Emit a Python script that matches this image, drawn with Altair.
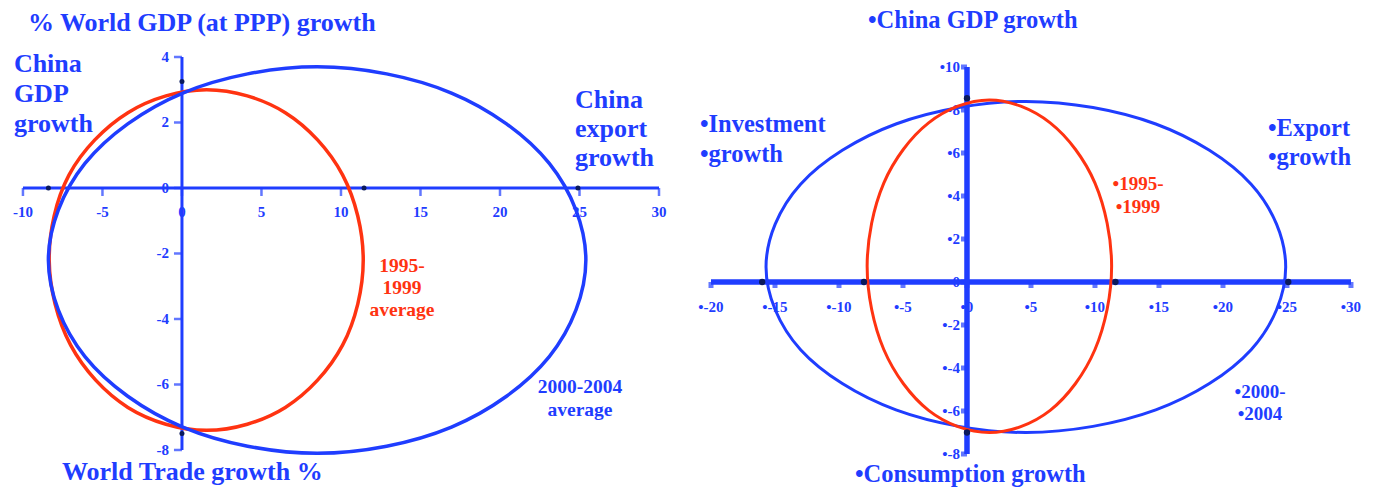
import altair as alt
import pandas as pd

# ---------------- data ----------------
# Left panel: world trade / world GDP / China GDP / China export (two periods)
L_BLUE_X = [25.4, 23.1, 16.95, 8.5, 0.05, -6.1, -8.4, -6.1, 0.05, 8.5, 16.95, 23.1]
L_BLUE_Y = [-2.2, 0.75, 2.9, 3.7, 2.9, 0.75, -2.2, -5.15, -7.3, -8.1, -7.3, -5.15]
L_RED_X = [11.4, 10.1, 6.5, 1.55, -3.4, -7.1, -8.35, -7.0, -3.4, 1.55, 6.5, 10.1]
L_RED_Y = [-2.2, 0.4, 2.3, 3.0, 2.3, 0.4, -2.2, -4.8, -6.7, -7.4, -6.7, -4.8]
L_DOT_X = [0, -8.4, 11.45, 24.9, 0]
L_DOT_Y = [3.25, 0, 0, 0, -7.5]
L_XTICKS = [-10, -5, 0, 5, 10, 15, 20, 25, 30]
L_YTICKS = [4, 2, 0, -2, -4, -6, -8]

# Right panel: China GDP / investment / consumption / export growth
R_BLUE_X = [24.9, 22.2, 14.75, 4.6, -5.55, -13.0, -15.7, -13.0, -5.55, 4.6, 14.75, 22.2]
R_BLUE_Y = [0.7, 4.55, 7.35, 8.4, 7.35, 4.55, 0.7, -3.15, -5.95, -7.0, -5.95, -3.15]
R_RED_X = [11.3, 10.0, 6.5, 1.75, -3.0, -6.5, -7.8, -6.5, -3.0, 1.75, 6.5, 10.0]
R_RED_Y = [0.73, 4.6, 7.4, 8.47, 7.4, 4.6, 0.73, -3.14, -5.97, -7.0, -5.97, -3.14]
R_DOT_X = [0, -16.0, -8.05, 11.6, 25.1, 0]
R_DOT_Y = [8.55, 0, 0, 0, 0, -7.0]
R_XTICKS = [-20, -15, -10, -5, 0, 5, 10, 15, 20, 25, 30]
R_YTICKS = [10, 8, 6, 4, 2, 0, -2, -4, -6, -8]

# ---------------- styling ----------------
BLUE = "#1f3dff"
RED = "#ff3311"
NAVY = "#0b1a5c"
FONT = "Liberation Serif"

LX = alt.Scale(domain=[-10.94, 31.32], nice=False, zero=False)
LY = alt.Scale(domain=[-8.947, 5.496], nice=False, zero=False)
RX = alt.Scale(domain=[-21.64, 31.33], nice=False, zero=False)
RY = alt.Scale(domain=[-9.256, 12.744], nice=False, zero=False)


def enc(sx, sy):
    return dict(x=alt.X("x:Q", scale=sx, axis=None),
                y=alt.Y("y:Q", scale=sy, axis=None))


def curve(xs, ys, color, width, sx, sy):
    df = pd.DataFrame({"x": xs, "y": ys, "i": list(range(len(xs)))})
    return alt.Chart(df).mark_line(
        interpolate="cardinal-closed", color=color, strokeWidth=width
    ).encode(order="i:Q", **enc(sx, sy))


def dots(xs, ys, size, sx, sy):
    df = pd.DataFrame({"x": xs, "y": ys})
    return alt.Chart(df).mark_circle(size=size, color=NAVY, opacity=1).encode(**enc(sx, sy))


def texts(lines, x, y, sx, sy, color, size, align, spacing):
    out = []
    for k, line in enumerate(lines):
        df = pd.DataFrame({"x": [x], "y": [y], "t": [line]})
        out.append(alt.Chart(df).mark_text(
            font=FONT, fontWeight="bold", fontSize=size, color=color,
            align=align, baseline="middle", dy=k * spacing
        ).encode(text="t:N", **enc(sx, sy)))
    return out


def axes(xr, yr, sx, sy, width):
    h = alt.Chart(pd.DataFrame({"x": [xr[0]], "x2": [xr[1]], "y": [0]})).mark_rule(
        color=BLUE, strokeWidth=width
    ).encode(x=alt.X("x:Q", scale=sx, axis=None), x2="x2:Q",
             y=alt.Y("y:Q", scale=sy, axis=None))
    v = alt.Chart(pd.DataFrame({"x": [0], "y": [yr[0]], "y2": [yr[1]]})).mark_rule(
        color=BLUE, strokeWidth=width
    ).encode(x=alt.X("x:Q", scale=sx, axis=None),
             y=alt.Y("y:Q", scale=sy, axis=None), y2="y2:Q")
    return [h, v]


def tick_marks(xticks, yticks, sx, sy, size, thick, off):
    xt = alt.Chart(pd.DataFrame({"x": xticks, "y": [0] * len(xticks)})).mark_tick(
        orient="vertical", color=BLUE, size=size, thickness=thick, yOffset=off
    ).encode(**enc(sx, sy))
    yt = alt.Chart(pd.DataFrame({"x": [0] * len(yticks), "y": yticks})).mark_tick(
        orient="horizontal", color=BLUE, size=size, thickness=thick, xOffset=-off
    ).encode(**enc(sx, sy))
    return [xt, yt]


def tick_labels(xticks, yticks, sx, sy, prefix, dy, dx):
    xl = alt.Chart(pd.DataFrame({"x": xticks, "y": [0] * len(xticks),
                                 "t": [prefix + str(v) for v in xticks]})).mark_text(
        font=FONT, fontWeight="bold", fontSize=15, color=BLUE,
        align="center", baseline="middle", dy=dy
    ).encode(text="t:N", **enc(sx, sy))
    yl = alt.Chart(pd.DataFrame({"x": [0] * len(yticks), "y": yticks,
                                 "t": [prefix + str(v) for v in yticks]})).mark_text(
        font=FONT, fontWeight="bold", fontSize=15, color=BLUE,
        align="right", baseline="middle", dx=dx
    ).encode(text="t:N", **enc(sx, sy))
    return [xl, yl]


# ---------------- left panel ----------------
left_layers = []
left_layers += tick_labels(L_XTICKS, L_YTICKS, LX, LY, "", 24, -13)
left_layers += axes([-10, 30], [-8, 4], LX, LY, 3)
left_layers += tick_marks(L_XTICKS, L_YTICKS, LX, LY, 8, 2.5, 4)
left_layers.append(curve(L_RED_X, L_RED_Y, RED, 3.5, LX, LY))
left_layers.append(curve(L_BLUE_X, L_BLUE_Y, BLUE, 3.5, LX, LY))
left_layers.append(dots(L_DOT_X, L_DOT_Y, 25, LX, LY))
left_layers += texts(["% World GDP (at PPP) growth"], -9.69, 5.04, LX, LY, BLUE, 26, "left", 0)
left_layers += texts(["China", "GDP", "growth"], -10.57, 3.79, LX, LY, BLUE, 26, "left", 30)
left_layers += texts(["China", "export", "growth"], 24.72, 2.69, LX, LY, BLUE, 26, "left", 29)
left_layers += texts(["World Trade growth %"], -7.55, -8.68, LX, LY, BLUE, 26, "left", 0)
left_layers += texts(["1995-", "1999", "average"], 13.84, -2.38, LX, LY, RED, 19.5, "center", 22)
left_layers += texts(["2000-2004", "average"], 25.03, -6.08, LX, LY, BLUE, 19.5, "center", 23)

left = alt.layer(*left_layers).properties(width=672, height=473)

# ---------------- right panel ----------------
right_layers = []
right_layers += tick_labels(R_XTICKS, R_YTICKS, RX, RY, "\u2022", 25, -7)
right_layers += axes([-20, 30], [-8, 10], RX, RY, 5.5)
right_layers += tick_marks(R_XTICKS, R_YTICKS, RX, RY, 6, 5, 3)
right_layers.append(curve(R_BLUE_X, R_BLUE_Y, BLUE, 3, RX, RY))
right_layers.append(curve(R_RED_X, R_RED_Y, RED, 3, RX, RY))
right_layers.append(dots(R_DOT_X, R_DOT_Y, 40, RX, RY))
right_layers += texts(["\u2022China GDP growth"], -7.73, 12.12, RX, RY, BLUE, 24.5, "left", 0)
right_layers += texts(["\u2022Investment", "\u2022growth"], -20.86, 7.30, RX, RY, BLUE, 24.5, "left", 30)
right_layers += texts(["\u2022Export", "\u2022growth"], 23.52, 7.12, RX, RY, BLUE, 24.5, "left", 29)
right_layers += texts(["\u20221995-", "\u20221999"], 13.36, 4.56, RX, RY, RED, 19, "center", 23)
right_layers += texts(["\u20222000-", "\u20222004"], 22.89, -5.12, RX, RY, BLUE, 19, "center", 22)
right_layers += texts(["\u2022Consumption growth"], -8.75, -9.0, RX, RY, BLUE, 24.5, "left", 0)

right = alt.layer(*right_layers).properties(width=678, height=473)

chart = alt.hconcat(left, right, spacing=10).properties(padding=0).configure_view(strokeWidth=0)

chart.save("out.html", embed_options={"renderer": "svg", "actions": False})
